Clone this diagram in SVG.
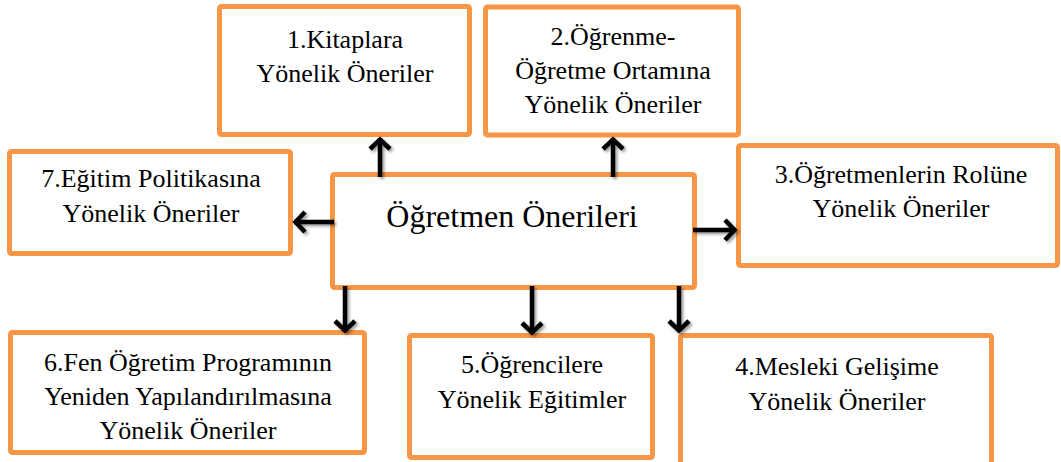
<svg xmlns="http://www.w3.org/2000/svg" width="1061" height="462" viewBox="0 0 1061 462">
<defs>
<style>
.box{fill:#fff;stroke:#F79646;stroke-width:5}
.t{font-size:26px;fill:#000;text-anchor:middle}
.big{font-size:32px}
.arr{stroke:#000;stroke-width:4.5;fill:none;marker-end:url(#ah)}
</style>
<marker id="ah" markerUnits="userSpaceOnUse" markerWidth="30" markerHeight="30" viewBox="-15 -15 30 30" refX="0" refY="0" orient="auto">
<path d="M-11,-10 L-1.5,0 L-11,10" fill="none" stroke="#000" stroke-width="4.5" stroke-linejoin="miter"/>
</marker>
<filter id="sh" x="-50%" y="-50%" width="200%" height="200%">
<feDropShadow dx="2" dy="2" stdDeviation="1.5" flood-color="#000" flood-opacity="0.4"/>
</filter>
</defs>
<g id="nodes" font-family="Liberation Serif, DejaVu Serif, serif">
<g id="n1"><rect class="box" x="219.5" y="6.5" width="250" height="128" rx="2"/>
<text class="t" x="345" y="48">1.Kitaplara</text><text class="t" x="345" y="82">Yönelik Öneriler</text></g>
<g id="n2"><rect class="box" x="485.5" y="7" width="253" height="128" rx="2"/>
<text class="t" x="613" y="45">2.Öğrenme-</text><text class="t" x="613" y="79">Öğretme Ortamına</text><text class="t" x="613" y="113">Yönelik Öneriler</text></g>
<g id="n7"><rect class="box" x="9.5" y="151.5" width="281" height="102" rx="2"/>
<text class="t" x="151" y="187">7.Eğitim Politikasına</text><text class="t" x="151" y="222">Yönelik Öneriler</text></g>
<g id="n0"><rect class="box" x="332.5" y="174.5" width="362" height="113" rx="2"/>
<text class="t big" x="512" y="227">Öğretmen Önerileri</text></g>
<g id="n3"><rect class="box" x="738.5" y="145.5" width="319" height="120" rx="2"/>
<text class="t" x="901" y="183">3.Öğretmenlerin Rolüne</text><text class="t" x="901" y="217">Yönelik Öneriler</text></g>
<g id="n6"><rect class="box" x="10.5" y="332.5" width="354" height="120" rx="2"/>
<text class="t" x="188" y="371">6.Fen Öğretim Programının</text><text class="t" x="188" y="405">Yeniden Yapılandırılmasına</text><text class="t" x="188" y="439">Yönelik Öneriler</text></g>
<g id="n5"><rect class="box" x="409.5" y="335.5" width="243" height="122" rx="2"/>
<text class="t" x="532" y="373">5.Öğrencilere</text><text class="t" x="532" y="408">Yönelik Eğitimler</text></g>
<g id="n4"><rect class="box" x="680.5" y="335.5" width="311" height="135" rx="2"/>
<text class="t" x="837" y="375">4.Mesleki Gelişime</text><text class="t" x="837" y="410">Yönelik Öneriler</text></g>
</g>
<g id="connectors" filter="url(#sh)">
<line class="arr" x1="380" y1="177" x2="380" y2="138"/>
<line class="arr" x1="613" y1="177" x2="613" y2="138"/>
<line class="arr" x1="334" y1="222" x2="294" y2="222"/>
<line class="arr" x1="693" y1="230" x2="736" y2="230"/>
<line class="arr" x1="345" y1="286" x2="345" y2="332"/>
<line class="arr" x1="532" y1="286" x2="532" y2="334"/>
<line class="arr" x1="679" y1="286" x2="679" y2="332"/>
</g>
</svg>
